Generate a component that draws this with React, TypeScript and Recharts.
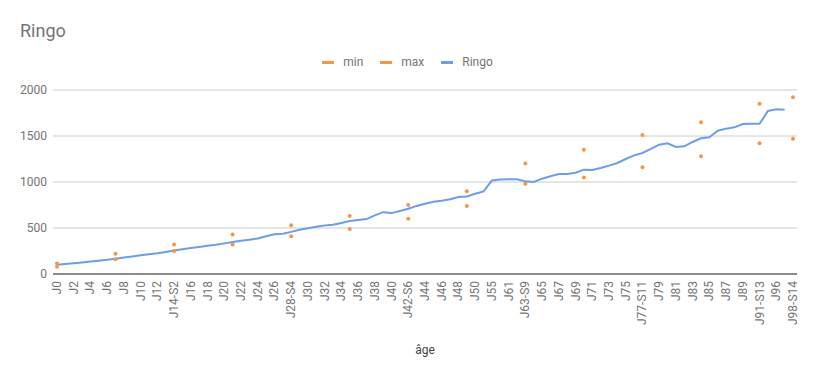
import { ComposedChart, Line, XAxis, YAxis, CartesianGrid } from "recharts"

const BLUE = "#6d9eeb"
const ORANGE = "#f79646"
const GRAY = "#757575"

// one category per measurement day
const days = [
  "J0", "J1", "J2", "J3", "J4", "J5", "J6", "J7-S1", "J8", "J9",
  "J10", "J11", "J12", "J13", "J14-S2", "J15", "J16", "J17", "J18", "J19",
  "J20", "J21-S3", "J22", "J23", "J24", "J25", "J26", "J27", "J28-S4", "J29",
  "J30", "J31", "J32", "J33", "J34", "J35-S5", "J36", "J37", "J38", "J39",
  "J40", "J41", "J42-S6", "J43", "J44", "J45", "J46", "J47", "J48", "J49-S7",
  "J50", "J52", "J55", "J58", "J61", "J62", "J63-S9", "J64", "J65", "J66",
  "J67", "J68", "J69", "J70-S10", "J71", "J72", "J73", "J74", "J75", "J76",
  "J77-S11", "J78", "J79", "J80", "J81", "J82", "J83", "J84-S12", "J85", "J86",
  "J87", "J88", "J89", "J90", "J91-S13", "J94", "J96", "J97", "J98-S14",
]

const ringo = [
  100, 108, 117, 126, 136, 145, 154, 167, 180, 191,
  203, 214, 225, 240, 255, 268, 282, 293, 306, 318,
  333, 347, 361, 373, 385, 410, 432, 437, 458, 480,
  498, 513, 527, 536, 555, 576, 587, 597, 637, 672,
  662, 685, 710, 740, 764, 786, 797, 812, 836, 842,
  872, 898, 1016, 1026, 1030, 1030, 1007, 1000, 1036, 1062,
  1087, 1088, 1101, 1134, 1130, 1152, 1178, 1207, 1250, 1290,
  1315, 1359, 1406, 1420, 1380, 1388, 1435, 1475, 1486, 1558,
  1580, 1594, 1630, 1632, 1632, 1772, 1790, 1784, null,
]

// weekly reference range
const weekDays = [
  "J0", "J7-S1", "J14-S2", "J21-S3", "J28-S4", "J35-S5", "J42-S6",
  "J49-S7", "J63-S9", "J70-S10", "J77-S11", "J84-S12", "J91-S13", "J98-S14",
]
const minVals = [80, 160, 250, 320, 410, 490, 600, 740, 980, 1050, 1160, 1280, 1420, 1470]
const maxVals = [115, 220, 320, 430, 530, 630, 750, 900, 1200, 1350, 1510, 1650, 1850, 1920]

const yTicks = [0, 500, 1000, 1500, 2000]

const data = days.map((d, i) => {
  const w = weekDays.indexOf(d)
  return {
    day: d,
    Ringo: ringo[i],
    min: w >= 0 ? minVals[w] : null,
    max: w >= 0 ? maxVals[w] : null,
  }
})

const legendItems = [
  { name: "min", color: ORANGE },
  { name: "max", color: ORANGE },
  { name: "Ringo", color: BLUE },
]

function XTick({ x, y, payload }: any) {
  return (
    <text
      x={0}
      y={0}
      transform={`translate(${x},${y}) rotate(-90)`}
      textAnchor="end"
      dominantBaseline="central"
      fontSize={12}
      fill={GRAY}
    >
      {payload.value}
    </text>
  )
}

export default function App() {
  return (
    <div style={{ position: "absolute", left: 0, top: 0, width: 815, height: 377, fontFamily: "Roboto", background: "#fff" }}>
      <div style={{ position: "absolute", left: 20, top: 22, fontSize: 18, lineHeight: "18px", color: GRAY }}>Ringo</div>
      <div
        style={{
          position: "absolute",
          left: 0,
          top: 56,
          width: 815,
          height: 12,
          display: "flex",
          justifyContent: "center",
          alignItems: "center",
          fontSize: 12,
          lineHeight: "12px",
          color: GRAY,
        }}
      >
        {legendItems.map((it, i) => (
          <div key={it.name} style={{ display: "flex", alignItems: "center", marginLeft: i === 0 ? 0 : 17 }}>
            <div style={{ width: 12, height: 3, background: it.color, marginRight: 9 }} />
            <span>{it.name}</span>
          </div>
        ))}
      </div>
      <ComposedChart
        width={815}
        height={377}
        data={data}
        margin={{ top: 90, right: 18, bottom: 0, left: 0 }}
        style={{ position: "absolute", left: 0, top: 0 }}
      >
        <CartesianGrid vertical={false} stroke="#cccccc" />
        <XAxis
          dataKey="day"
          interval={1}
          height={103}
          padding={{ left: 4, right: 4 }}
          tickLine={false}
          tickSize={0}
          tickMargin={7}
          axisLine={{ stroke: "#333333" }}
          tick={<XTick />}
          label={{ value: "âge", position: "insideBottom", offset: 23, fill: "#444444", fontSize: 12 }}
        />
        <YAxis
          width={53}
          domain={[0, 2000]}
          ticks={yTicks}
          axisLine={false}
          tickLine={false}
          tickSize={0}
          tickMargin={6}
          tick={{ fill: GRAY, fontSize: 12 }}
        />
        <Line
          dataKey="Ringo"
          type="linear"
          stroke={BLUE}
          strokeWidth={2}
          dot={false}
          activeDot={false}
          isAnimationActive={false}
        />
        <Line
          dataKey="min"
          stroke="none"
          dot={{ r: 2, fill: ORANGE, stroke: "none" }}
          activeDot={false}
          isAnimationActive={false}
        />
        <Line
          dataKey="max"
          stroke="none"
          dot={{ r: 2, fill: ORANGE, stroke: "none" }}
          activeDot={false}
          isAnimationActive={false}
        />
      </ComposedChart>
    </div>
  )
}
